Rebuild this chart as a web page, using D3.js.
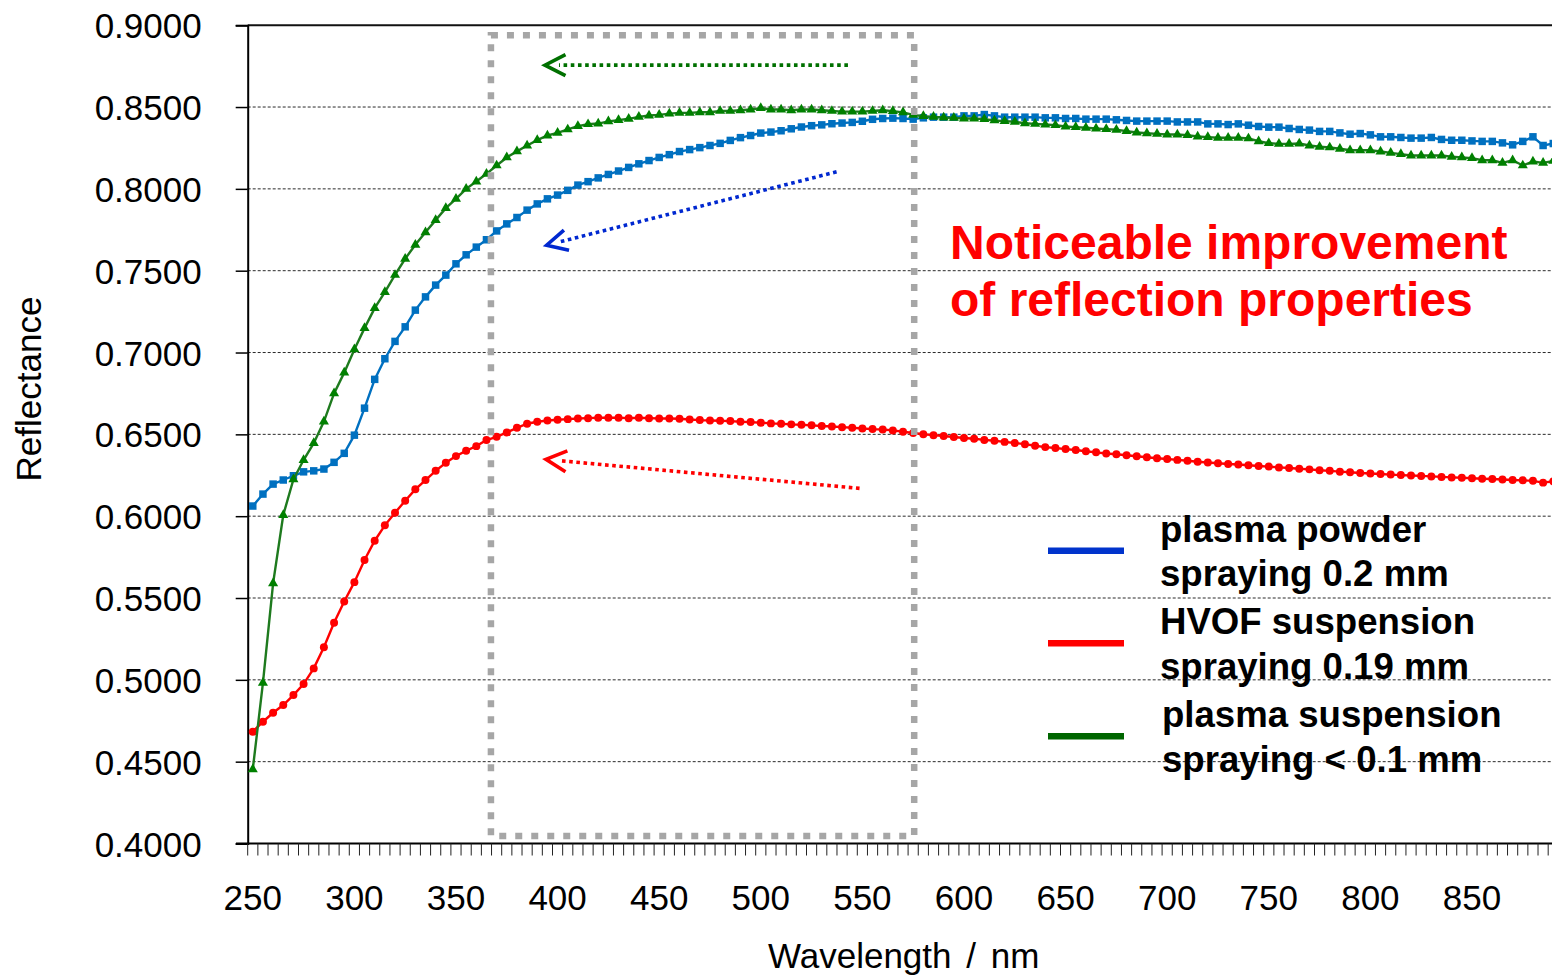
<!DOCTYPE html>
<html><head><meta charset="utf-8">
<script src="https://cdn.jsdelivr.net/npm/d3@7"></script>
<style>
body{margin:0;background:#fff}
svg{display:block;font-family:"Liberation Sans",Arial,sans-serif}
</style>
</head><body>
<svg id="c" width="1552" height="975"></svg>
<script>
// ---- data ----
const wavelengths = d3.range(250, 895, 5); // 250 ... 890 nm, every 5 nm
const plasmaPowder = [
0.6062,0.6135,0.6196,0.6221,0.6247,0.6271,0.6277,0.6288,0.6329,0.6384,
0.6495,0.6660,0.6836,0.6962,0.7068,0.7157,0.7259,0.7340,0.7412,0.7473,
0.7542,0.7597,0.7644,0.7689,0.7743,0.7786,0.7825,0.7870,0.7908,0.7939,
0.7962,0.7991,0.8023,0.8044,0.8067,0.8088,0.8109,0.8131,0.8153,0.8173,
0.8192,0.8209,0.8228,0.8240,0.8252,0.8265,0.8278,0.8296,0.8313,0.8326,
0.8341,0.8347,0.8355,0.8367,0.8378,0.8386,0.8391,0.8398,0.8402,0.8406,
0.8413,0.8425,0.8430,0.8432,0.8430,0.8426,0.8434,0.8438,0.8438,0.8438,
0.8446,0.8446,0.8454,0.8446,0.8438,0.8438,0.8438,0.8438,0.8434,0.8434,
0.8430,0.8430,0.8426,0.8426,0.8426,0.8422,0.8418,0.8414,0.8414,0.8414,
0.8414,0.8409,0.8409,0.8409,0.8397,0.8397,0.8393,0.8397,0.8389,0.8381,
0.8377,0.8377,0.8369,0.8363,0.8359,0.8351,0.8351,0.8342,0.8334,0.8338,
0.8330,0.8318,0.8318,0.8314,0.8310,0.8310,0.8314,0.8302,0.8297,0.8297,
0.8293,0.8290,0.8290,0.8281,0.8269,0.8290,0.8318,0.8265,0.8277];
const hvofSuspension = [
0.4683,0.4744,0.4799,0.4846,0.4907,0.4974,0.5070,0.5199,0.5349,0.5479,
0.5597,0.5732,0.5850,0.5944,0.6021,0.6094,0.6164,0.6221,0.6277,0.6326,
0.6367,0.6400,0.6428,0.6465,0.6485,0.6512,0.6540,0.6565,0.6577,0.6585,
0.6589,0.6593,0.6597,0.6599,0.6601,0.6601,0.6601,0.6599,0.6601,0.6599,
0.6597,0.6597,0.6595,0.6591,0.6587,0.6585,0.6583,0.6581,0.6577,0.6575,
0.6571,0.6567,0.6565,0.6561,0.6559,0.6555,0.6551,0.6548,0.6544,0.6540,
0.6536,0.6532,0.6530,0.6524,0.6516,0.6508,0.6501,0.6495,0.6490,0.6484,
0.6478,0.6473,0.6466,0.6461,0.6454,0.6447,0.6440,0.6430,0.6422,0.6417,
0.6410,0.6404,0.6397,0.6390,0.6383,0.6378,0.6372,0.6366,0.6360,0.6354,
0.6349,0.6344,0.6339,0.6333,0.6328,0.6323,0.6319,0.6316,0.6311,0.6307,
0.6303,0.6298,0.6294,0.6290,0.6286,0.6281,0.6277,0.6272,0.6268,0.6264,
0.6261,0.6258,0.6254,0.6251,0.6249,0.6246,0.6243,0.6240,0.6237,0.6235,
0.6232,0.6229,0.6227,0.6224,0.6221,0.6219,0.6216,0.6205,0.6213];
const plasmaSuspension = [
0.4453,0.4982,0.5590,0.6007,0.6225,0.6343,0.6446,0.6578,0.6750,0.6877,
0.7019,0.7149,0.7271,0.7369,0.7474,0.7573,0.7658,0.7735,0.7809,0.7882,
0.7939,0.8000,0.8045,0.8092,0.8143,0.8192,0.8229,0.8265,0.8298,0.8326,
0.8342,0.8363,0.8383,0.8395,0.8399,0.8412,0.8420,0.8428,0.8440,0.8448,
0.8452,0.8460,0.8464,0.8464,0.8468,0.8468,0.8476,0.8476,0.8480,0.8485,
0.8493,0.8485,0.8485,0.8480,0.8485,0.8485,0.8480,0.8476,0.8472,0.8472,
0.8472,0.8476,0.8480,0.8475,0.8467,0.8452,0.8444,0.8440,0.8436,0.8434,
0.8430,0.8430,0.8426,0.8418,0.8414,0.8410,0.8401,0.8397,0.8393,0.8389,
0.8381,0.8377,0.8373,0.8369,0.8365,0.8361,0.8353,0.8344,0.8340,0.8336,
0.8332,0.8332,0.8328,0.8320,0.8316,0.8312,0.8312,0.8312,0.8308,0.8291,
0.8279,0.8275,0.8275,0.8277,0.8265,0.8257,0.8253,0.8245,0.8236,0.8236,
0.8236,0.8228,0.8220,0.8212,0.8204,0.8204,0.8204,0.8204,0.8196,0.8192,
0.8188,0.8175,0.8175,0.8159,0.8175,0.8143,0.8167,0.8159,0.8171];
const yTickValues = [0.40,0.45,0.50,0.55,0.60,0.65,0.70,0.75,0.80,0.85,0.90];
const xTickLabels = [250,300,350,400,450,500,550,600,650,700,750,800,850];
const legendLabels = [
  ["plasma powder","spraying 0.2 mm"],
  ["HVOF suspension","spraying 0.19 mm"],
  ["plasma suspension","spraying < 0.1 mm"]];
const noteLines = ["Noticeable improvement","of reflection properties"];
const xTitle = "Wavelength / nm";
const yTitle = "Reflectance";
// highlight box and arrows, in data units (wavelength, reflectance)
const boxCorners = [[367.2, 0.8939],[575.5, 0.4046]];
const arrowFrom = [[542.9,0.8756],[537.3,0.8104],[548.6,0.6170]];
const arrowTo   = [[393.8,0.8756],[394.6,0.7656],[394.3,0.6347]];

// ---- styles ----
const seriesStyle = [
  {data: plasmaPowder, line:"#0070C0", fill:"#0070C0", sym:d3.symbolSquare, size:56, legend:"#0033CC"},
  {data: hvofSuspension, line:"#FF0000", fill:"#FF0000", sym:d3.symbolCircle, size:50, legend:"#FF0000"},
  {data: plasmaSuspension, line:"#1E7A1E", fill:"#008000", sym:d3.symbolTriangle, size:44, legend:"#006600"}];
const arrowColors = ["#007000","#0028D0","#FF0000"];

const svg = d3.select("#c");
const x = d3.scaleLinear().domain([247.5, 902.5]).range([247.7, 247.7 + 655*2.032]);
const y = d3.scaleLinear().domain([0.4, 0.9]).range([843.5, 25.2]);
const W = 1552;

// gridlines
svg.append("g").selectAll("line").data(yTickValues.filter(v => v > 0.4 && v < 0.9)).join("line")
  .attr("x1", x(247.5)).attr("x2", W).attr("y1", d => y(d)).attr("y2", d => y(d))
  .attr("stroke", "#2a2a2a").attr("stroke-width", 1).attr("stroke-dasharray", "3 2");
// top border line
svg.append("line").attr("x1", x(247.5)).attr("x2", W).attr("y1", y(0.9)).attr("y2", y(0.9))
  .attr("stroke", "#111").attr("stroke-width", 2);

// y axis
const yAxis = d3.axisLeft(y).tickValues(yTickValues).tickFormat(d3.format(".4f")).tickSize(12).tickPadding(34);
const gy = svg.append("g").attr("transform", `translate(${x(247.5)},0)`).call(yAxis);
gy.select(".domain").attr("stroke", "#000").attr("stroke-width", 2);
gy.selectAll(".tick line").attr("stroke", "#000").attr("stroke-width", 1.5);
gy.selectAll("text").attr("font-size", 35).attr("fill", "#000").attr("font-family", "Liberation Sans, Arial, sans-serif").attr("dy", "0.36em");

// x axis: ticks at category boundaries, labels at category centres
const xBound = d3.range(247.5, 905, 5);
const gx = svg.append("g");
gx.append("line").attr("x1", 236).attr("x2", W).attr("y1", y(0.4)).attr("y2", y(0.4))
  .attr("stroke", "#000").attr("stroke-width", 2);
gx.selectAll("line.t").data(xBound).join("line").attr("class","t")
  .attr("x1", d => x(d)).attr("x2", d => x(d)).attr("y1", y(0.4)).attr("y2", y(0.4) + 12)
  .attr("stroke", "#222").attr("stroke-width", 1);
gx.selectAll("text").data(xTickLabels).join("text")
  .attr("x", d => x(d)).attr("y", 910).attr("text-anchor", "middle")
  .attr("font-size", 35).attr("fill", "#000").text(d => d);

// titles
svg.append("text").attr("x", 768).attr("y", 968).attr("font-size", 35).attr("fill","#000")
  .attr("word-spacing", 5).text(xTitle);
svg.append("text").attr("transform", "translate(41,389) rotate(-90)").attr("text-anchor","middle")
  .attr("font-size", 35).attr("fill","#000").text(yTitle);

// series
const plot = svg.append("g");
seriesStyle.forEach(s => {
  const pts = wavelengths.map((w, i) => [w, s.data[i]]);
  plot.append("path").datum(pts)
    .attr("d", d3.line().x(d => x(d[0])).y(d => y(d[1])))
    .attr("fill", "none").attr("stroke", s.line).attr("stroke-width", 2.4);
  plot.append("g").selectAll("path").data(pts).join("path")
    .attr("transform", d => `translate(${x(d[0])},${y(d[1])})`)
    .attr("d", d3.symbol(s.sym, s.size)).attr("fill", s.fill);
});

// highlight box
const bx0 = x(boxCorners[0][0]), bx1 = x(boxCorners[1][0]);
const by0 = y(boxCorners[0][1]), by1 = y(boxCorners[1][1]);
svg.append("rect").attr("x", bx0).attr("y", by0).attr("width", bx1 - bx0).attr("height", by1 - by0)
  .attr("fill", "none").attr("stroke", "#A6A6A6").attr("stroke-width", 6.5).attr("stroke-dasharray", "7 9");

// arrows
arrowFrom.forEach((f, i) => {
  const t = arrowTo[i];
  const x1 = x(f[0]), y1 = y(f[1]), x2 = x(t[0]), y2 = y(t[1]);
  const c = arrowColors[i];
  const ang = Math.atan2(y1 - y2, x1 - x2);
  svg.append("line").attr("x1", x1).attr("y1", y1).attr("x2", x2 + 14*Math.cos(ang)).attr("y2", y2 + 14*Math.sin(ang))
    .attr("stroke", c).attr("stroke-width", 3.6).attr("stroke-dasharray", "3.6 3.6");
  const L = 23, a = 0.47;
  const p1 = [x2 + L*Math.cos(ang + a), y2 + L*Math.sin(ang + a)];
  const p2 = [x2 + L*Math.cos(ang - a), y2 + L*Math.sin(ang - a)];
  svg.append("path").attr("d", `M${p1}L${x2},${y2}L${p2}`).attr("fill","none")
    .attr("stroke", c).attr("stroke-width", 3.6).attr("stroke-linejoin","miter");
});

// annotation text
svg.append("g").selectAll("text").data(noteLines).join("text")
  .attr("x", 950).attr("y", (d, i) => 259 + i*57).attr("font-size", 48).attr("font-weight", "bold")
  .attr("fill", "#FF0000").text(d => d);

// legend
const leg = svg.append("g");
const legY = [550.7, 643.3, 736.3];
legendLabels.forEach((lab, i) => {
  leg.append("line").attr("x1", 1048).attr("x2", 1124).attr("y1", legY[i]).attr("y2", legY[i])
    .attr("stroke", seriesStyle[i].legend).attr("stroke-width", 6.5);
  lab.forEach((t, j) => {
    leg.append("text").attr("x", i === 2 ? 1162 : 1160).attr("y", legY[i] - 9 + j*44.5)
      .attr("font-size", 36.6).attr("font-weight", "bold").attr("fill", "#000").text(t);
  });
});
</script>
</body></html>
